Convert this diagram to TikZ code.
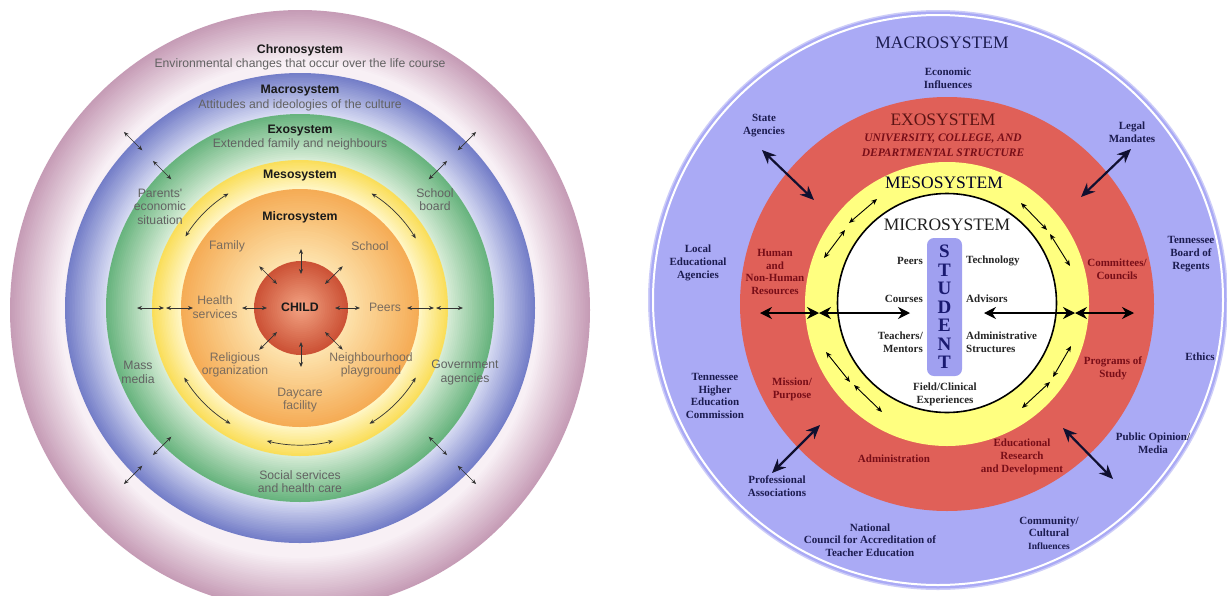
\documentclass[tikz,border=0pt]{standalone}
\usepackage{fontspec}
\newfontfamily\lsans{Liberation Sans}
\newfontfamily\rserif{Liberation Serif}
\usetikzlibrary{arrows.meta,calc}
\definecolor{pinkdark}{RGB}{198,156,182}
\definecolor{pinklight}{RGB}{248,240,245}
\definecolor{bluedark}{RGB}{116,126,200}
\definecolor{bluelight}{RGB}{214,218,242}
\definecolor{greendark}{RGB}{104,180,126}
\definecolor{greenlight}{RGB}{214,236,214}
\definecolor{yellowdark}{RGB}{250,222,90}
\definecolor{yellowlight}{RGB}{255,246,196}
\definecolor{orangedark}{RGB}{245,172,86}
\definecolor{orangelight}{RGB}{253,226,172}
\definecolor{childdark}{RGB}{204,82,54}
\definecolor{childlight}{RGB}{242,162,130}
\definecolor{ldark}{RGB}{26,26,26}
\definecolor{lgray}{RGB}{98,98,98}
\definecolor{lbrown}{RGB}{122,108,94}
\definecolor{lav}{RGB}{170,170,245}
\definecolor{lavpale}{RGB}{205,205,248}
\definecolor{exored}{RGB}{224,96,88}
\definecolor{mesoyel}{RGB}{255,255,128}
\definecolor{stubar}{RGB}{160,160,240}
\definecolor{stunavy}{RGB}{26,26,112}
\definecolor{navy}{RGB}{28,28,80}
\definecolor{maroon}{RGB}{120,14,24}
\definecolor{exotitle}{RGB}{92,20,20}
\definecolor{arrnavy}{RGB}{16,16,48}
\newcommand\gradring[6]{%
  \foreach \k in {0,...,#6}{%
    \pgfmathsetmacro\rr{#2-(#2-#3)*\k/(#6+1)}%
    \pgfmathtruncatemacro\pp{100*\k/#6}%
    \fill[#5!\pp!#4] (#1) circle[radius=\rr pt];
  }}
\begin{document}
\begin{tikzpicture}[x=1pt,y=-1pt,
  ltitle/.style={font=\lsans\bfseries\fontsize{12.3}{14}\selectfont, text=ldark, inner sep=0},
  ldesc/.style={font=\lsans\fontsize{12.2}{13.5}\selectfont, text=lgray, align=center, inner sep=0},
  llab/.style={font=\lsans\fontsize{12.2}{13.5}\selectfont, text=lbrown, align=center, inner sep=0},
  larr/.style={{Stealth[length=5pt,width=4pt]}-{Stealth[length=5pt,width=4pt]}, line width=0.7pt, draw=black!80},
  rtitle/.style={font=\rserif\fontsize{17.5}{20}\selectfont, inner sep=0},
  rlab/.style={font=\rserif\bfseries\fontsize{11}{12.7}\selectfont, text=navy, align=center, inner sep=0},
  redlab/.style={rlab, text=maroon},
  inlab/.style={rlab, text=black!85},
  bigarr/.style={{Stealth[length=14pt,width=12pt]}-{Stealth[length=14pt,width=12pt]}, line width=2.2pt, draw=arrnavy},
  midarr/.style={{Stealth[length=12pt,width=12pt]}-{Stealth[length=12pt,width=12pt]}, line width=1.3pt, draw=black},
  smallarr/.style={{Stealth[length=6pt,width=5pt]}-{Stealth[length=6pt,width=5pt]}, line width=0.9pt, draw=black}
]
\useasboundingbox (0,0) rectangle (1227,595);
\fill[white] (0,0) rectangle (1227,595);
% ================= LEFT DIAGRAM =================
\coordinate (P) at (300,310);
\coordinate (L) at (300,308);
\coordinate (C) at (301,308);
\foreach \k in {0,...,30}{%
  \pgfmathsetmacro\fr{1-(1-238/290)*\k/31}%
  \pgfmathtruncatemacro\pp{100*\k/30}%
  \fill[pinklight!\pp!pinkdark] (P) ellipse[x radius=290*\fr pt, y radius=300*\fr pt];
}
\gradring{L}{235}{194}{bluedark}{bluelight}{24}
\gradring{L}{194}{148}{greendark}{greenlight}{24}
\gradring{L}{148}{119}{yellowdark}{yellowlight}{18}
\gradring{L}{119}{47}{orangedark}{orangelight}{30}
\gradring{C}{47}{0}{childdark}{childlight}{24}
% texts
\node[ltitle] (chrono) at (300,50) {Chronosystem};
\node[ldesc] (chronod) at (300,64) {Environmental changes that occur over the life course};
\node[ltitle] (macro) at (300,91) {Macrosystem};
\node[ldesc] (macrod) at (300,105) {Attitudes and ideologies of the culture};
\node[ltitle] (exo) at (300,131) {Exosystem};
\node[ldesc] (exod) at (300,144) {Extended family and neighbours};
\node[ltitle] (meso) at (300,176) {Mesosystem};
\node[ltitle] (micro) at (300,217) {Microsystem};
\node[ltitle] (child) at (300,307) {CHILD};
\node[ldesc] (parents) at (160,206.5) {Parents'\\economic\\situation};
\node[ldesc] (board) at (435,199.5) {School\\board};
\node[llab] (family) at (227,246) {Family};
\node[llab] (school) at (370,246) {School};
\node[llab] (health) at (215,307) {Health\\services};
\node[llab] (peers) at (385,307) {Peers};
\node[llab] (relig) at (235,365) {Religious\\organization};
\node[llab] (neigh) at (371,365) {Neighbourhood\\playground};
\node[ldesc] (mass) at (138,372.5) {Mass\\media};
\node[ldesc] (gov) at (465,372.5) {Government\\agencies};
\node[llab] (day) at (300,400) {Daycare\\facility};
\node[ldesc] (social) at (300,481.5) {Social services\\and health care};
% arrows
\foreach \a in {0,45,...,315}
  \draw[larr] ($(C)+(\a:34pt)$) -- ($(C)+(\a:59pt)$);
\foreach \a in {0,180}{
  \draw[larr] ($(L)+(\a:107pt)$) -- ($(L)+(\a:134pt)$);
  \draw[larr] ($(L)+(\a:136pt)$) -- ($(L)+(\a:163pt)$);}
\foreach \a in {45,135,225,315}{
  \draw[larr] ($(L)+(\a:182pt)$) -- ($(L)+(\a:208pt)$);
  \draw[larr] ($(L)+(\a:223pt)$) -- ($(L)+(\a:249pt)$);}
\draw[larr] ($(L)+(122:135pt)$) arc[start angle=122, end angle=148, radius=135pt];
\draw[larr] ($(L)+(31:135pt)$) arc[start angle=31, end angle=58, radius=135pt];
\draw[larr] ($(L)+(211:135pt)$) arc[start angle=211, end angle=239, radius=135pt];
\draw[larr] ($(L)+(301:135pt)$) arc[start angle=301, end angle=329, radius=135pt];
\draw[larr] ($(L)+(256:137pt)$) arc[start angle=256, end angle=284, radius=137pt];
% ================= RIGHT DIAGRAM =================
\coordinate (O) at (938,300);
\coordinate (R) at (947,304);
\fill[lavpale] (O) circle[radius=290pt];
\fill[lav] (O) circle[radius=288.5pt];
\draw[white, line width=2pt] (O) circle[radius=285pt];
\fill[exored] (R) circle[radius=207pt];
\fill[mesoyel] (R) circle[radius=142pt];
\filldraw[fill=white, draw=black, line width=1.6pt] (947,303) circle[radius=109.5pt];
% titles
\node[rtitle, text=navy] (macrot) at (942,43) {MACROSYSTEM};
\node[rtitle, text=exotitle] (exot) at (943,120) {EXOSYSTEM};
\node[font=\rserif\bfseries\itshape\fontsize{11.5}{15}\selectfont, text=maroon, align=center, inner sep=0] (univ) at (943,145.5) {UNIVERSITY, COLLEGE, AND\\DEPARTMENTAL STRUCTURE};
\node[rtitle, text=black!85!blue] (mesot) at (944,183) {MESOSYSTEM};
\node[rtitle, text=black!88] (microt) at (947,225) {MICROSYSTEM};
% student bar
\node[fill=stubar, rounded corners=7pt, minimum width=35pt, minimum height=138pt, inner sep=0,
  font=\rserif\bfseries\fontsize{19}{18.5}\selectfont, text=stunavy, align=center] (student) at (944.5,307) {S\\T\\U\\D\\E\\N\\T};
% inner labels
\node[inlab, anchor=east] (rpeers) at (923,261) {Peers};
\node[inlab, anchor=west] (rtech) at (966,261) {Technology};
\node[inlab, anchor=east] (rcourses) at (923,299) {Courses};
\node[inlab, anchor=west] (radv) at (966,299) {Advisors};
\node[inlab, anchor=east, align=right] (rteach) at (923,342) {Teachers/\\Mentors};
\node[inlab, anchor=west, align=left] (radmin) at (966,342) {Administrative\\Structures};
\node[inlab] (rfield) at (945,394) {Field/Clinical\\Experiences};
% exosystem labels
\node[redlab] (human) at (775,272) {Human\\and\\Non-Human\\Resources};
\node[redlab] (comm) at (1117,269.5) {Committees/\\Councils};
\node[redlab] (mission) at (792,389.5) {Mission/\\Purpose};
\node[redlab] (prog) at (1113,368) {Programs of\\Study};
\node[redlab] (admin) at (894,459) {Administration};
\node[redlab] (edres) at (1022,457) {Educational\\Research\\and Development};
% macrosystem labels
\node[rlab] (econ) at (948,78) {Economic\\Influences};
\node[rlab] (state) at (764,125.5) {State\\Agencies};
\node[rlab] (legal) at (1132,132) {Legal\\Mandates};
\node[rlab] (local) at (698,263) {Local\\Educational\\Agencies};
\node[rlab] (tbr) at (1191,254) {Tennessee\\Board of\\Regents};
\node[rlab] (ethics) at (1200,357) {Ethics};
\node[rlab] (thec) at (715,396) {Tennessee\\Higher\\Education\\Commission};
\node[rlab] (public) at (1153,443) {Public Opinion/\\Media};
\node[rlab] (prof) at (777,486.5) {Professional\\Associations};
\node[rlab] (ncate) at (870,540) {National\\Council for Accreditation of\\Teacher Education};
\node[rlab] (community) at (1049,533) {Community/\\Cultural\\{\fontsize{9.5}{11}\selectfont Influences}};
% big diagonal arrows
\draw[bigarr] (762,150) -- (814,200);
\draw[bigarr] (1131,149) -- (1081,197);
\draw[bigarr] (820,425) -- (772,473);
\draw[bigarr] (1063,428) -- (1113,479);
% horizontal arrows
\draw[midarr] (760,313) -- (819,313);
\draw[midarr] (819,313) -- (910,313);
\draw[midarr] (984,313) -- (1075,313);
\draw[midarr] (1075,313) -- (1134,313);
% small mesosystem arrows
\draw[smallarr] (877,199) -- (849,223);
\draw[smallarr] (845,230) -- (824,258);
\draw[smallarr] (1021,203) -- (1047,230);
\draw[smallarr] (1050,234) -- (1070,266);
\draw[smallarr] (826,352) -- (850,382);
\draw[smallarr] (854,385) -- (882,412);
\draw[smallarr] (1071,346) -- (1053,377);
\draw[smallarr] (1050,382) -- (1022,408);
\end{tikzpicture}
\end{document}
